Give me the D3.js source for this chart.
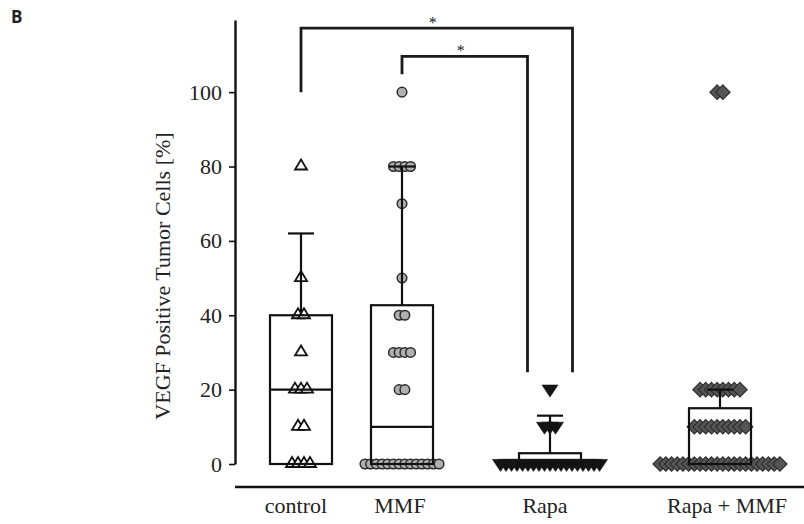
<!DOCTYPE html>
<html>
<head>
<meta charset="utf-8">
<script src="https://cdn.jsdelivr.net/npm/d3@7"></script>
<style>
  html, body { margin: 0; padding: 0; background: #fff; }
  svg { display: block; }
</style>
</head>
<body>
<svg id="chart" width="804" height="524"></svg>
<script>
// ---------------- data ----------------
const categories = ["control", "MMF", "Rapa", "Rapa + MMF"];

const controlValues = [0, 0, 0, 0, 10, 10, 20, 20, 20, 30, 40, 40, 50, 80];
const mmfValues = [0, 0, 0, 0, 0, 0, 0, 0, 0, 0, 0, 0, 0, 0,
                   20, 20, 30, 30, 30, 30, 40, 40, 50, 70, 80, 80, 80, 80, 100];
const rapaValues = [0, 0, 0, 0, 0, 0, 0, 0, 0, 0, 0, 0, 0, 0, 0, 0, 0, 0, 0,
                    10, 10, 10, 20];
const rapaMmfValues = [0, 0, 0, 0, 0, 0, 0, 0, 0, 0, 0, 0, 0, 0, 0, 0, 0, 0, 0, 0, 0, 0,
                       10, 10, 10, 10, 10, 10, 10, 10, 10, 10,
                       20, 20, 20, 20, 20, 20, 20, 20,
                       100, 100];

// box summaries as drawn
const boxLow    = [0, 0, 0, 0];
const boxMedian = [20, 10, 0, 0];
const boxHigh   = [40, 42.7, 2.9, 15];
const whiskerTop = [62, 80, 13, 20];

const yTicks = [0, 20, 40, 60, 80, 100];
const yLabel = "VEGF Positive Tumor Cells [%]";

// significance brackets
const bracketFrom = ["control", "MMF"];
const bracketTo   = ["Rapa", "Rapa"];
const bracketBar  = [117.2, 109.6];
const bracketFromEnd = [100, 104.8];
const bracketToEnd   = [24.7, 24.7];
const bracketToSide  = [1, -1];
const bracketLabel = ["*", "*"];

// ---------------- layout ----------------
const svg = d3.select("#chart");
const serif = "'Liberation Serif', 'DejaVu Serif', serif";

const y = d3.scaleLinear().domain([0, 119.4]).range([464, 20]);
const x = d3.scaleOrdinal().domain(categories).range([301, 402, 550, 720]);
const xLab = d3.scaleOrdinal().domain(categories).range([296, 400, 545, 727]);

const groups = [
  { cat: "control",    values: controlValues, shape: "tri",   step: 6.0 },
  { cat: "MMF",        values: mmfValues,     shape: "circle", step: 5.7 },
  { cat: "Rapa",       values: rapaValues,    shape: "dtri",  step: 5.5 },
  { cat: "Rapa + MMF", values: rapaMmfValues, shape: "diamond", step: 5.7 }
];

const symUp = { draw(ctx) { ctx.moveTo(0, -7); ctx.lineTo(6, 3); ctx.lineTo(-6, 3); ctx.closePath(); } };
const symDown = { draw(ctx) { ctx.moveTo(-8, -4.6); ctx.lineTo(8, -4.6); ctx.lineTo(0, 7.4); ctx.closePath(); } };
const symDiamond = { draw(ctx) { ctx.moveTo(0, -7.2); ctx.lineTo(7.2, 0); ctx.lineTo(0, 7.2); ctx.lineTo(-7.2, 0); ctx.closePath(); } };

// ---------------- points ----------------
const pointsG = svg.append("g");
groups.forEach(g => {
  const byVal = d3.group(g.values, v => v);
  const pts = [];
  for (const [v, arr] of byVal) {
    const n = arr.length;
    arr.forEach((_, i) => pts.push({ v, off: (i - (n - 1) / 2) * g.step }));
  }
  const sel = pointsG.append("g").selectAll("g").data(pts).join("g")
    .attr("transform", d => `translate(${x(g.cat) + d.off},${y(d.v)})`);
  if (g.shape === "circle") {
    sel.append("circle").attr("r", 4.8)
      .attr("fill", "#b0b0b0").attr("stroke", "#2a2a2a").attr("stroke-width", 1.5);
  } else if (g.shape === "tri") {
    sel.append("path").attr("d", d3.symbol().type(symUp)())
      .attr("fill", "#fff").attr("stroke", "#111").attr("stroke-width", 1.8)
      .attr("stroke-linejoin", "miter");
  } else if (g.shape === "dtri") {
    sel.append("path").attr("d", d3.symbol().type(symDown)())
      .attr("fill", "#141414").attr("stroke", "#141414").attr("stroke-width", 0.6);
  } else {
    sel.append("path").attr("d", d3.symbol().type(symDiamond)())
      .attr("fill", "#555").attr("stroke", "#2e2e2e").attr("stroke-width", 1.2);
  }
});

// ---------------- boxes and whiskers (drawn over the points) ----------------
const boxW = 62, capW = 26;
const boxG = svg.append("g").attr("stroke", "#111").attr("stroke-width", 2.2).attr("fill", "none");
categories.forEach((c, i) => {
  const cx = x(c);
  boxG.append("rect")
    .attr("x", cx - boxW / 2).attr("y", y(boxHigh[i]))
    .attr("width", boxW).attr("height", y(boxLow[i]) - y(boxHigh[i]));
  boxG.append("line")
    .attr("x1", cx - boxW / 2).attr("x2", cx + boxW / 2)
    .attr("y1", y(boxMedian[i])).attr("y2", y(boxMedian[i]));
  boxG.append("line")
    .attr("x1", cx).attr("x2", cx)
    .attr("y1", y(boxHigh[i])).attr("y2", y(whiskerTop[i]));
  boxG.append("line")
    .attr("x1", cx - capW / 2).attr("x2", cx + capW / 2)
    .attr("y1", y(whiskerTop[i])).attr("y2", y(whiskerTop[i]));
});

// ---------------- brackets ----------------
const brG = svg.append("g");
bracketFrom.forEach((f, i) => {
  const x1 = x(f);
  const x2 = x(bracketTo[i]) + bracketToSide[i] * 22.5;
  const yb = y(bracketBar[i]);
  brG.append("path")
    .attr("d", d3.line()([[x1, y(bracketFromEnd[i])], [x1, yb], [x2, yb], [x2, y(bracketToEnd[i])]]))
    .attr("fill", "none").attr("stroke", "#1a1a1a").attr("stroke-width", 2.8)
    .attr("stroke-linejoin", "miter");
  brG.append("text")
    .attr("x", (x1 + x2) / 2 - 4).attr("y", yb - 0.5)
    .attr("text-anchor", "middle")
    .attr("font-family", serif).attr("font-size", 16).attr("fill", "#222")
    .text(bracketLabel[i]);
});

// ---------------- axes ----------------
const yAxis = svg.append("g").attr("transform", "translate(235,0)")
  .call(d3.axisLeft(y).tickValues(yTicks).tickSize(6).tickSizeOuter(0).tickPadding(7));
yAxis.select(".domain").attr("stroke", "#111").attr("stroke-width", 2.4);
yAxis.selectAll(".tick line").attr("stroke", "#111").attr("stroke-width", 1.6);
yAxis.selectAll(".tick text")
  .attr("font-family", serif).attr("font-size", 22).attr("fill", "#222");

svg.append("line")
  .attr("x1", 235).attr("x2", 804).attr("y1", 487).attr("y2", 487)
  .attr("stroke", "#111").attr("stroke-width", 2.4);

svg.append("g").selectAll("text").data(categories).join("text")
  .attr("x", d => xLab(d)).attr("y", 513)
  .attr("text-anchor", "middle")
  .attr("font-family", serif).attr("font-size", 22).attr("fill", "#222")
  .text(d => d);

svg.append("text")
  .attr("transform", "translate(170,276) rotate(-90)")
  .attr("text-anchor", "middle")
  .attr("font-family", serif).attr("font-size", 22).attr("fill", "#222")
  .text(yLabel);

svg.append("text")
  .attr("x", 11).attr("y", 23)
  .attr("font-family", "'Open Sans', 'Liberation Sans', sans-serif")
  .attr("font-weight", 700).attr("font-size", 17).attr("fill", "#222")
  .text("B");
</script>
</body>
</html>
